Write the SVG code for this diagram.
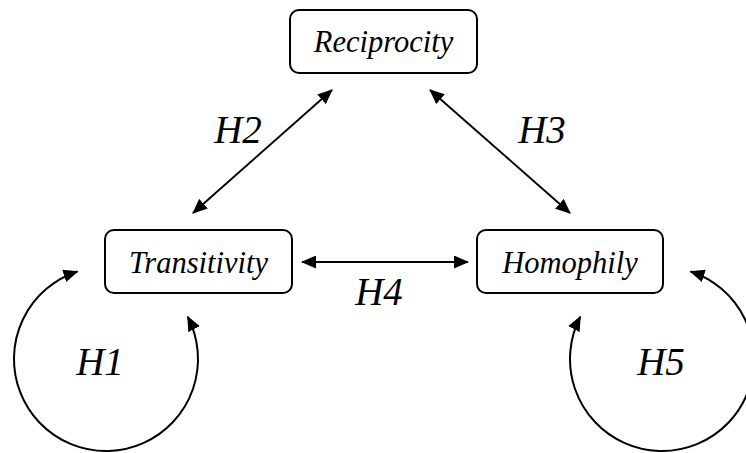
<svg xmlns="http://www.w3.org/2000/svg" width="746" height="453" viewBox="0 0 746 453">
<style>
.box{fill:#fff;stroke:#000;stroke-width:2}
.lbl{font-family:"Liberation Serif","Times New Roman",serif;font-style:italic;font-size:30.5px;text-anchor:middle;fill:#000}
.h{font-family:"Liberation Serif","Times New Roman",serif;font-style:italic;font-size:39px;text-anchor:middle;fill:#000}
.c{fill:none;stroke:#000;stroke-width:2;marker-start:url(#ah);marker-end:url(#ah)}
</style>
<defs>
<marker id="ah" markerUnits="userSpaceOnUse" markerWidth="15" markerHeight="13" refX="14" refY="6.5" orient="auto-start-reverse" viewBox="0 0 15 13">
<path d="M0,0 L15,6.5 L0,13 z" fill="#000"/>
</marker>
</defs>
<g id="reciprocity">
<rect class="box" x="290" y="10" width="187" height="63" rx="9"/>
<text class="lbl" x="383.5" y="52">Reciprocity</text>
</g>
<g id="transitivity">
<rect class="box" x="105" y="230" width="187" height="63" rx="9"/>
<text class="lbl" x="198.5" y="273">Transitivity</text>
</g>
<g id="homophily">
<rect class="box" x="477" y="230" width="186" height="63" rx="9"/>
<text class="lbl" x="570" y="273">Homophily</text>
</g>
<g id="connectors">
<path class="c" d="M193,213 L332,90"/>
<path class="c" d="M430,90 L570,213"/>
<path class="c" d="M302,262 L468,262"/>
<path class="c" d="M187.7,316.7 A92,92 0 1 1 77.5,271.5"/>
<path class="c" d="M580.3,316.7 A92,92 0 1 0 690.5,271.5"/>
</g>
<g id="labels">
<text class="h" x="238" y="143">H2</text>
<text class="h" x="542" y="143">H3</text>
<text class="h" x="379" y="305">H4</text>
<text class="h" x="100" y="375">H1</text>
<text class="h" x="661" y="375">H5</text>
</g>
</svg>
